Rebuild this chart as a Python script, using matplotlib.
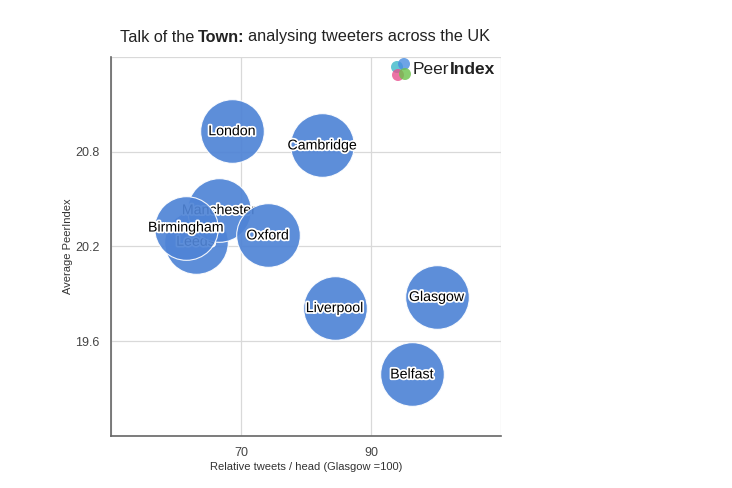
import matplotlib
matplotlib.use("Agg")
import matplotlib.pyplot as plt
import matplotlib.patheffects as pe
from matplotlib.patches import Ellipse

# values (x: relative tweets/head, y: average PeerIndex)
CITIES = ["Leeds", "Manchester", "Birmingham", "London", "Cambridge",
          "Oxford", "Liverpool", "Glasgow", "Belfast"]
TWEETS = [63.0, 66.6, 61.5, 68.6, 82.5, 74.1, 84.4, 100.1, 96.3]
PEER = [20.23, 20.43, 20.32, 20.93, 20.84, 20.27, 19.81, 19.88, 19.39]
XTICKS = [50, 70, 90, 110]
YTICKS = [19.0, 19.6, 20.2, 20.8, 21.4]

W, H = 732, 488
plt.rcParams["font.family"] = ["Liberation Sans", "DejaVu Sans"]

fig = plt.figure(figsize=(W / 100, H / 100), dpi=100)
ax = fig.add_axes([111 / W, 1 - 436 / H, 390 / W, 379 / H])

blue = "#4f84d6"
halo = [pe.withStroke(linewidth=2.5, foreground="white")]
for i, (name, x, y) in enumerate(zip(CITIES, TWEETS, PEER)):
    ax.scatter(x, y, s=2100, color=blue, edgecolor="white", linewidth=0.8,
               alpha=0.92, zorder=3 + 2 * i)
    ax.text(x, y, name, ha="center", va="center", fontsize=10.2, color="black",
            path_effects=halo, zorder=4 + 2 * i)

ax.set_xlim(50, 109.6)
ax.set_ylim(19.0, 21.4)
ax.set_xticks(XTICKS)
ax.set_xticklabels(["" if t in (50, 110) else str(t) for t in XTICKS])
ax.set_yticks(YTICKS)
ax.set_yticklabels(["" if t in (19.0, 21.4) else f"{t:.1f}" for t in YTICKS])
ax.tick_params(length=0, labelsize=9, colors="#444444", pad=8)
ax.grid(True, color="#d9d9d9", linewidth=0.9, zorder=0)
ax.set_axisbelow(True)
for side in ("top", "right"):
    ax.spines[side].set_visible(False)
for side in ("left", "bottom"):
    ax.spines[side].set_color("#666666")
    ax.spines[side].set_linewidth(1.2)

ax.set_xlabel("Relative tweets / head (Glasgow =100)", fontsize=8, color="#333333",
              labelpad=2)
ax.set_ylabel("Average PeerIndex", fontsize=8, color="#333333", labelpad=2)


def run_text(pieces, x_center, y, size, gap=0.0):
    """Lay out (text, weight) pieces one after another, centred on x_center (px)."""
    r = fig.canvas.get_renderer()
    arts = [fig.text(0, y / H, t, ha="left", va="center", fontsize=size,
                     fontweight=w, color="#222222") for t, w in pieces]
    widths = [a.get_window_extent(r).width + gap for a in arts]
    x = x_center - (sum(widths) - gap) / 2
    for a, wd in zip(arts, widths):
        a.set_x(x / W)
        x += wd


run_text([("Talk of the", "normal"), ("Town:", "bold"),
          ("analysing tweeters across the UK", "normal")],
         305, H - 37, 11.7, gap=3.5)

# PeerIndex logo
for (lx, ly, c) in [(397, 67, "#3bb8c9"), (404, 64, "#4a8de0"),
                    (398, 75, "#e8508f"), (405, 74, "#6cc24a")]:
    fig.patches.append(Ellipse((lx / W, 1 - ly / H), 12 / W, 12 / H,
                               transform=fig.transFigure, color=c, alpha=0.8,
                               ec="none"))
run_text([("Peer", "normal"), ("Index", "bold")], 454, H - 70, 12.5)

fig.savefig("out.png", dpi=100)
